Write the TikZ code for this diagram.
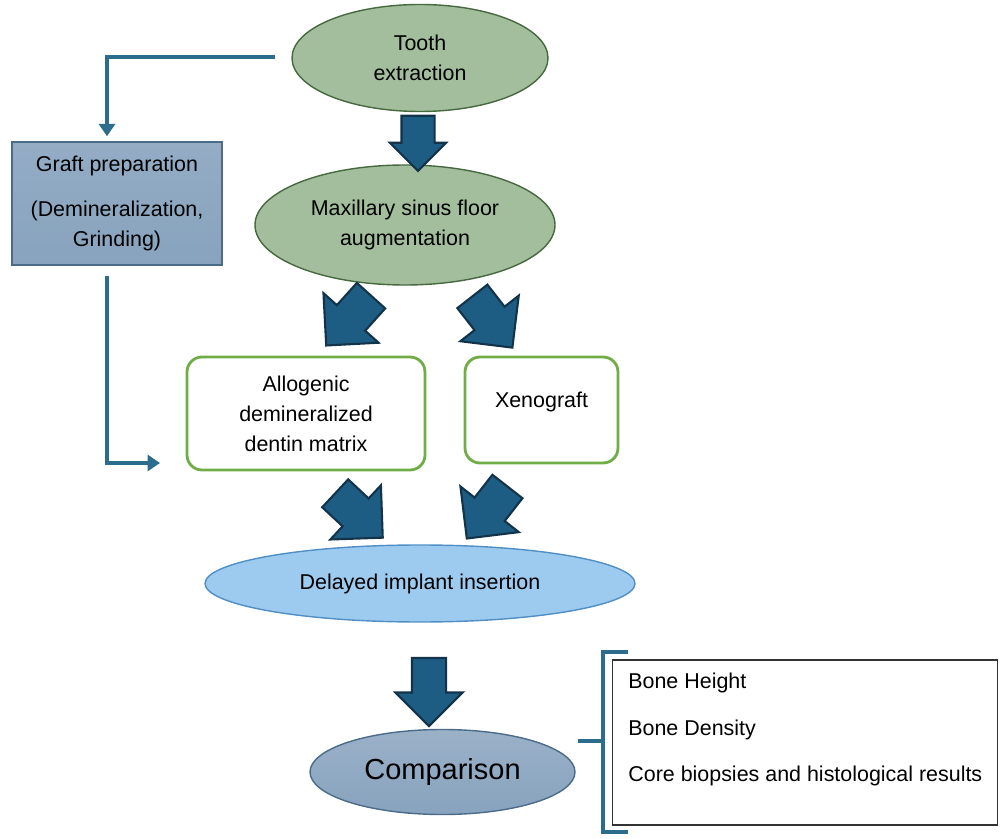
\documentclass[tikz,border=0pt]{standalone}
\usepackage{fontspec}
\setmainfont{Liberation Sans}
\usetikzlibrary{shapes.geometric,shapes.arrows,arrows.meta}
\definecolor{sagefill}{HTML}{A2BE9C}
\definecolor{sageline}{HTML}{46693F}
\definecolor{skyfill}{HTML}{9DCBF0}
\definecolor{skyline}{HTML}{4F8FC6}
\definecolor{steelfill}{HTML}{88A3BE}
\definecolor{steelline}{HTML}{4A6B8A}
\definecolor{leafline}{HTML}{70AD47}
\definecolor{arrowfill}{HTML}{1D5D83}
\definecolor{arrowline}{HTML}{13334A}
\definecolor{feedcol}{HTML}{2C6C8C}
\newcommand{\bodyfs}{\fontsize{12.2}{17}\selectfont}
\tikzset{
  greenoval/.style={ellipse, draw=sageline, line width=0.8pt, fill=sagefill, align=center, font=\bodyfs, inner sep=0pt},
  greenbox/.style={rectangle, rounded corners=0.3cm, draw=leafline, line width=1.6pt, fill=white, align=center, font=\bodyfs},
  bigarrow/.style={single arrow, draw=arrowline, line width=1.2pt, fill=arrowfill, inner xsep=0pt, anchor=center},
  feed/.style={draw=feedcol, line width=1.8pt},
  feedarrow/.style={feed, -{Triangle[width=9pt,length=7pt]}},
}
\begin{document}
\begin{tikzpicture}
  \useasboundingbox (0,0) rectangle (20,-16.78);

  % Main chain
  \node[greenoval, minimum width=5.12cm, minimum height=2.14cm] (tooth) at (8.4,-1.16) {Tooth\\extraction};
  \node[greenoval, minimum width=6.0cm, minimum height=2.4cm] (sinus) at (8.1,-4.5) {Maxillary sinus floor\\augmentation};
  \node[greenbox, minimum width=4.76cm, minimum height=2.26cm] (allo) at (6.12,-8.27) {Allogenic\\demineralized\\dentin matrix};
  \node[greenbox, minimum width=3.06cm, minimum height=2.12cm] (xeno) at (10.83,-8.2) {Xenograft\\[-5pt]\mbox{}};
  \node[ellipse, draw=skyline, line width=0.8pt, fill=skyfill, font=\bodyfs, minimum width=8.6cm, minimum height=1.54cm] (delay) at (8.4,-11.67) {Delayed implant insertion};
  \node[ellipse, draw=steelline, line width=0.8pt, top color=steelfill!85!white, bottom color=steelfill, font=\fontsize{16.5}{20}\selectfont, minimum width=5.3cm, minimum height=1.7cm] (comp) at (8.85,-15.44) {Comparison};

  % Graft preparation
  \node[rectangle, draw=steelline, line width=0.8pt, top color=steelfill!90!white, bottom color=steelfill, align=center, font=\bodyfs, minimum width=4.2cm, minimum height=2.46cm] (graft) at (2.34,-4.07) {Graft preparation\\[9pt](Demineralization,\\Grinding)};

  % Outcomes
  \node[rectangle, draw=black!80, line width=0.8pt, fill=white, minimum width=7.7cm, minimum height=3.3cm] (outc) at (16.1,-14.85) {};
  \node[font=\bodyfs, anchor=base west, inner sep=0pt] (oheight) at (12.56,-13.76) {Bone Height};
  \node[font=\bodyfs, anchor=base west, inner sep=0pt] (odensity) at (12.56,-14.7) {Bone Density};
  \node[font=\bodyfs, anchor=base west, inner sep=0pt] (ocore) at (12.56,-15.62) {Core biopsies and histological results};

  % Block arrows
  \node[bigarrow, inner ysep=0.31cm, single arrow head extend=0.23cm, minimum height=1.1cm, rotate=-90] (a1) at (8.36,-2.7) {};
  \node[bigarrow, inner ysep=0.36cm, single arrow head extend=0.36cm, minimum height=1.34cm, rotate=228] (a2) at (7.1,-6.27) {};
  \node[bigarrow, inner ysep=0.36cm, single arrow head extend=0.36cm, minimum height=1.3cm, rotate=-52] (a3) at (9.73,-6.29) {};
  \node[bigarrow, inner ysep=0.36cm, single arrow head extend=0.36cm, minimum height=1.3cm, rotate=-43] (a4) at (7.04,-10.18) {};
  \node[bigarrow, inner ysep=0.36cm, single arrow head extend=0.36cm, minimum height=1.32cm, rotate=232] (a5) at (9.86,-10.1) {};
  \node[bigarrow, inner ysep=0.32cm, single arrow head extend=0.33cm, minimum height=1.36cm, rotate=-90] (a6) at (8.58,-13.67) {};

  % Graft feed lines
  \coordinate (gsrc) at (5.5,-1.14);
  \coordinate (gbend) at (2.14,-1.14);
  \coordinate (gturn) at (2.14,-9.26);
  \coordinate (gend) at (3.2,-9.26);
  \draw[feedarrow, shorten >=0.1cm] (gsrc) -- (gbend) -- (gbend |- graft.north);
  \draw[feedarrow, shorten <=0.2cm] (graft.south -| gturn) -- (gturn) -- (gend);

  % Bracket
  \coordinate (btop) at (12.06,-13.04);
  \coordinate (bbot) at (12.06,-16.64);
  \coordinate (bmid) at (12.06,-14.82);
  \draw[feed] ([xshift=0.5cm]btop) -- (btop) -- (bbot) -- ([xshift=0.5cm]bbot);
  \draw[feed] (bmid) -- ++(-0.5,0);
\end{tikzpicture}
\end{document}
